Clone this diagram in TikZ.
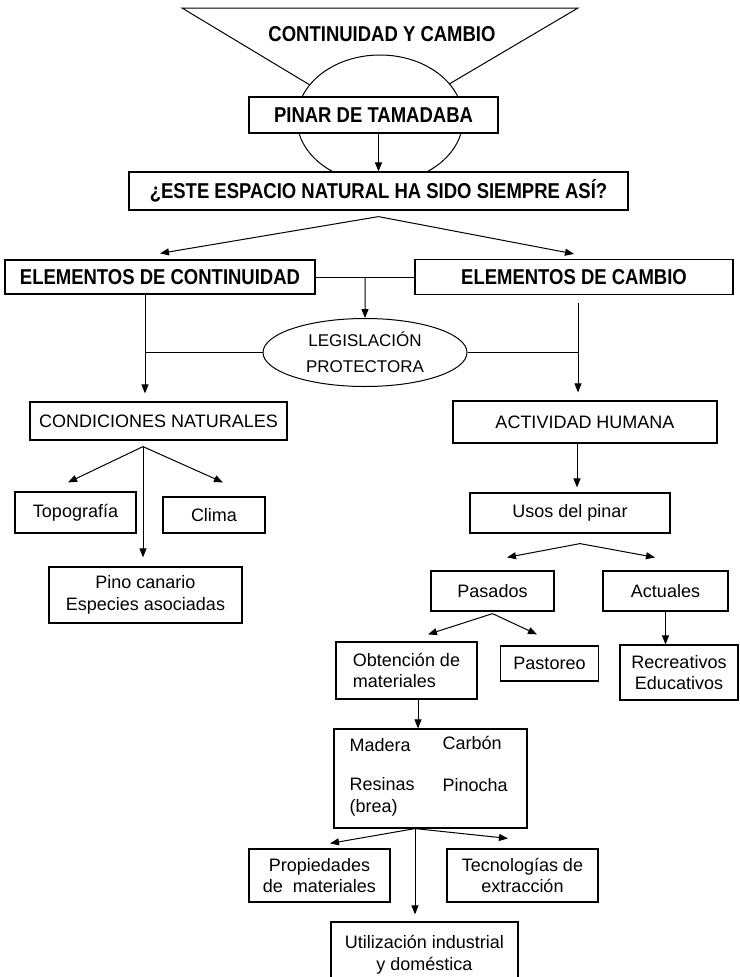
\documentclass[tikz,border=0pt]{standalone}
\usepackage{fontspec}
\setmainfont{Liberation Sans}
\newfontfamily\headfont{Liberation Sans}[FakeStretch=0.86]
\usetikzlibrary{arrows.meta, shapes.geometric, calc}

\begin{document}
\begin{tikzpicture}[x=1pt, y=-1pt,
	box/.style={draw, line width=1.2pt, fill=white, inner sep=0pt, align=center, font=\fontsize{18}{21.6}\selectfont},
	head/.style={box, font=\headfont\bfseries\fontsize{21.5}{25}\selectfont},
	txt/.style={inner sep=0pt, anchor=base west, font=\fontsize{18}{21.6}\selectfont},
	arr/.style={-{Triangle[length=9pt, width=7pt]}, line width=1pt},
	line/.style={line width=1pt}]
		\useasboundingbox (0,0) rectangle (739,977);
		\clip (0,0) rectangle (739,977);
		\draw[line] (182,8)--(578,8)--(378,126)--cycle;
		\node[head, draw=none, fill=none] (titulo) at (382,34.5) {CONTINUIDAD Y CAMBIO};
		\node[ellipse, draw, line width=1pt, fill=white, minimum width=166pt, minimum height=128pt] (disco) at (380,119) {};
		\node[head, minimum width=249pt, minimum height=36pt] (pinar) at (373.5,115) {PINAR DE TAMADABA};
		\node[head, minimum width=499pt, minimum height=38pt] (pregunta) at (378.5,191) {¿ESTE ESPACIO NATURAL HA SIDO SIEMPRE ASÍ?};
		\node[head, minimum width=310pt, minimum height=34pt] (continuidad) at (160,277) {ELEMENTOS DE CONTINUIDAD};
		\node[head, minimum width=318pt, minimum height=35pt] (cambio) at (574,277) {ELEMENTOS DE CAMBIO};
		\node[ellipse, draw, line width=1pt, fill=white, minimum width=204pt, minimum height=68pt, inner sep=0pt, align=center, font=\fontsize{17}{26}\selectfont] (legis) at (365,352.5) {LEGISLACIÓN\\PROTECTORA};
		\node[box, minimum width=257pt, minimum height=38pt] (naturales) at (158.5,421) {CONDICIONES NATURALES};
		\node[box, minimum width=264pt, minimum height=42pt] (humana) at (585,422) {ACTIVIDAD HUMANA};
		\node[box, minimum width=121pt, minimum height=41pt] (topo) at (75.5,512.5) {Topografía};
		\node[box, minimum width=102pt, minimum height=36pt] (clima) at (214,515) {Clima};
		\node[box, minimum width=193pt, minimum height=56pt] (pino) at (145.5,595) {Pino canario\\Especies asociadas};
		\node[box, minimum width=200pt, minimum height=40pt] (usos) at (570,513) {Usos del pinar};
		\node[box, minimum width=123pt, minimum height=40pt] (pasados) at (492.5,591) {Pasados};
		\node[box, minimum width=125pt, minimum height=40pt] (actuales) at (665.5,591) {Actuales};
		\node[box, minimum width=141pt, minimum height=57pt, align=left] (obtencion) at (406.5,670.5) {Obtención de\\materiales};
		\node[box, minimum width=98pt, minimum height=35pt] (pastoreo) at (549.5,663.5) {Pastoreo};
		\node[box, minimum width=118pt, minimum height=55pt] (recreativos) at (679,672.5) {Recreativos\\Educativos};
		\node[box, minimum width=193pt, minimum height=99pt] (lista) at (430.5,778.5) {};
		\node[txt] (madera) at ([shift={(16pt,-23pt)}]lista.north west) {Madera};
		\node[txt] (carbon) at ([shift={(109pt,-21pt)}]lista.north west) {Carbón};
		\node[txt] (resinas) at ([shift={(16pt,-62pt)}]lista.north west) {\begin{tabular}[t]{@{}l@{}}Resinas\\(brea)\end{tabular}};
		\node[txt] (pinocha) at ([shift={(109pt,-63pt)}]lista.north west) {Pinocha};
		\node[box, minimum width=141pt, minimum height=53pt] (propiedades) at (319.5,875.5) {Propiedades\\de\ \ materiales};
		\node[box, minimum width=151pt, minimum height=53pt] (tecnologias) at (522.5,875.5) {Tecnologías de\\extracción};
		\node[box, minimum width=187pt, minimum height=66pt] (utilizacion) at (424.5,955) {Utilización industrial\\y doméstica};
		\draw[arr] (pinar.south -| pregunta.north)--(pregunta.north);
		\coordinate (preg) at ($(pregunta.south)+(0,6)$);
		\draw[arr] (preg)--($(continuidad.north)+(0,-6)$);
		\draw[arr] (preg)--($(cambio.north)+(0,-5)$);
		\draw[line] (continuidad.east)--(cambio.west);
		\draw[arr] ($(continuidad.east)!0.5!(cambio.west)$)--(legis.north);
		\coordinate (izq) at (145,352.5);
		\coordinate (der) at (578,352.5);
		\draw[arr, shorten >=8pt] (continuidad.south -| izq)--(naturales.north -| izq);
		\draw[line] (izq)--(legis.west);
		\draw[arr, shorten >=8pt] ($(cambio.south -| der)+(0,8)$)--(humana.north -| der);
		\draw[line] (legis.east)--(der);
		\draw[arr, shorten >=5pt] ($(humana.south)+(-8,0)$)--($(usos.north)+(7,0)$);
		\coordinate (nat) at ($(naturales.south)+(-15.5,6)$);
		\draw[arr] (nat)--($(topo.north)+(-7.5,-9)$);
		\draw[arr] (nat)--($(clima.north)+(9,-14)$);
		\draw[arr, shorten >=9pt] (nat)--(nat |- pino.north);
		\coordinate (uso) at ($(usos.south)+(10,10)$);
		\draw[arr] (uso)--($(pasados.north)+(14.5,-13)$);
		\draw[arr] (uso)--($(actuales.north)+(-10.5,-13)$);
		\coordinate (pas) at ($(pasados.south)+(0,2)$);
		\draw[arr] (pas)--($(obtencion.north)+(21.5,-7)$);
		\draw[arr] (pas)--($(pastoreo.north)+(-12.5,-11)$);
		\draw[arr] (actuales.south)--(actuales.south |- recreativos.north);
		\coordinate (ob) at ($(obtencion.south)+(11.5,0)$);
		\draw[arr] (ob)--(ob |- lista.north);
		\coordinate (mat) at ($(lista.south)+(-15.5,0)$);
		\draw[arr] (mat)--($(propiedades.north)+(10.5,-5)$);
		\draw[arr] (mat)--($(tecnologias.north)+(-14.5,-10)$);
		\draw[arr, shorten >=7pt] (mat)--(mat |- utilizacion.north);
	\end{tikzpicture}
\end{document}
